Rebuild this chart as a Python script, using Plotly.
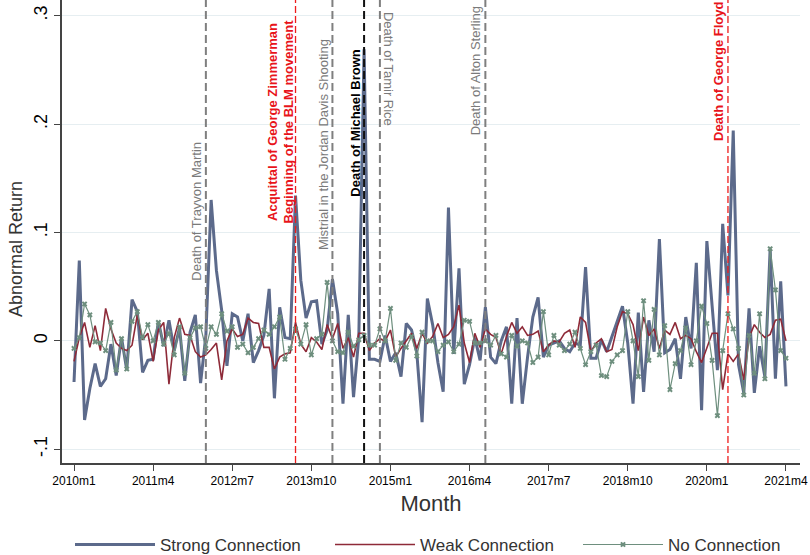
import plotly.graph_objects as go

# ---------------- data ----------------
months = [f"{y}m{m}" for y in range(2010, 2022) for m in range(1, 13)][:136]  # 2010m1 .. 2021m4

strong = [
    -0.038, 0.074, -0.073, -0.044, -0.021, -0.042, -0.035, -0.003, -0.032, 0.003,
    -0.027, 0.038, 0.027, -0.029, -0.018, -0.017, 0.018, -0.005, 0.019, -0.009,
    0.012, -0.037, 0.008, 0.024, -0.039, 0.005, 0.130, 0.065, 0.028, -0.023,
    0.025, 0.022, 0.000, 0.025, -0.020, -0.009, 0.005, 0.048, -0.053, 0.031,
    0.003, 0.002, 0.134, 0.056, 0.021, 0.036, 0.037, -0.003, 0.010, 0.057,
    0.025, -0.058, 0.024, -0.052, 0.003, 0.269, -0.017, -0.017, -0.019, 0.005,
    -0.019, -0.011, -0.033, 0.016, 0.010, -0.011, -0.075, 0.039, 0.015, -0.020,
    -0.047, 0.123, -0.012, 0.067, -0.040, -0.022, 0.003, -0.018, 0.031, -0.015,
    -0.021, 0.000, 0.013, -0.058, 0.021, -0.058, -0.015, 0.022, 0.040, -0.015,
    -0.004, -0.002, 0.000, -0.007, -0.010, -0.002, -0.004, 0.068, -0.016, -0.016,
    0.001, -0.010, 0.004, 0.020, 0.032, -0.002, -0.058, 0.026, -0.047, 0.019,
    -0.010, 0.094, -0.011, -0.008, 0.002, -0.035, 0.022, -0.007, 0.072, -0.064,
    0.092, 0.032, -0.027, 0.108, 0.042, 0.194, -0.022, -0.048, 0.030, -0.048,
    -0.005, -0.033, 0.085, -0.035, 0.055, -0.042,
]

weak = [
    -0.019, 0.003, 0.017, -0.006, 0.014, -0.009, 0.030, 0.011, -0.002, -0.007,
    -0.009, -0.004, 0.024, 0.001, 0.007, -0.019, 0.010, 0.017, -0.040, 0.003,
    0.021, 0.006, 0.005, -0.010, -0.015, -0.013, -0.008, -0.002, -0.036, 0.000,
    0.011, 0.004, 0.006, 0.021, 0.017, 0.016, -0.006, -0.006, -0.026, -0.015,
    -0.012, -0.011, 0.017, -0.003, -0.010, 0.003, -0.001, -0.008, 0.015, 0.002,
    0.016, -0.007, 0.003, -0.015, 0.007, 0.007, -0.009, -0.002, 0.002, 0.000,
    0.010, -0.015, -0.007, 0.000, 0.007, -0.007, 0.007, -0.002, 0.004, 0.016,
    0.003, 0.006, 0.013, 0.033, -0.002, -0.020, 0.007, -0.006, 0.011, 0.006,
    0.003, -0.012, 0.004, 0.017, 0.007, 0.013, 0.005, 0.006, 0.009, -0.010,
    -0.004, 0.000, -0.001, 0.007, 0.010, -0.006, 0.022, 0.017, -0.010, -0.002,
    0.002, -0.010, -0.008, 0.013, 0.027, 0.025, 0.015, -0.009, 0.022, 0.005,
    0.011, -0.007, 0.010, 0.006, 0.017, 0.002, 0.005, 0.002, -0.010, -0.020,
    -0.007, 0.007, 0.007, -0.045, -0.012, -0.019, -0.012, -0.036, 0.003, 0.015,
    0.008, 0.003, 0.006, 0.019, 0.020, 0.000,
]

none = [
    -0.007, 0.003, 0.034, 0.024, -0.001, -0.002, -0.009, 0.017, -0.027, 0.002,
    -0.026, 0.018, 0.027, 0.003, 0.015, 0.000, 0.017, -0.003, 0.007, -0.013,
    0.013, -0.030, 0.003, 0.012, 0.013, -0.007, 0.013, 0.006, 0.025, 0.009,
    0.013, -0.006, -0.003, -0.011, -0.006, 0.002, 0.010, 0.006, 0.013, 0.022,
    -0.017, -0.007, 0.011, -0.003, 0.015, -0.013, 0.002, 0.006, 0.054, 0.000,
    -0.010, -0.011, 0.008, -0.005, 0.001, 0.005, -0.004, -0.004, 0.011, 0.000,
    0.030, -0.018, -0.002, -0.006, 0.004, -0.014, 0.008, 0.000, 0.000, -0.010,
    -0.004, -0.001, -0.010, -0.003, 0.019, 0.018, -0.002, -0.002, 0.000, -0.004,
    0.005, -0.012, -0.015, 0.005, -0.005, 0.000, -0.002, -0.020, -0.015, 0.027,
    -0.013, 0.005, -0.004, -0.009, -0.003, 0.008, -0.007, -0.022, -0.010, -0.004,
    -0.032, -0.033, -0.019, -0.013, -0.009, 0.027, 0.000, -0.033, 0.037, -0.018,
    0.029, -0.013, 0.014, -0.045, -0.021, -0.009, 0.012, -0.022, 0.000, 0.032,
    0.016, -0.018, -0.069, -0.009, 0.025, 0.011, -0.007, -0.050, 0.005, -0.030,
    0.025, -0.035, 0.085, 0.047, -0.009, -0.016,
]

tick_labels = ["2010m1", "2011m4", "2012m7", "2013m10", "2015m1",
               "2016m4", "2017m7", "2018m10", "2020m1", "2021m4"]
y_tick_vals = [-0.1, 0, 0.1, 0.2, 0.3]
y_tick_text = ["-.1", "0", ".1", ".2", ".3"]

event_months = ["2012m2", "2013m7", "2014m2", "2014m8", "2014m11", "2016m7", "2020m5"]
event_labels = [
    "Death of Trayvon Martin",
    "Acquittal of George Zimmerman<br>Beginning of the BLM movement",
    "Mistrial in the Jordan Davis Shooting",
    "Death of Michael Brown",
    "Death of Tamir Rice",
    "Death of Alton Sterling",
    "Death of George Floyd",
]

# ---------------- styles ----------------
GRAY = "#7f7f7f"
RED = "#ee1c1c"
ev_style = [  # (line color, width, dash, text color, bold, label y-centre, xshift, angle)
    (GRAY, 2, "8px,4px", "#7a7a7a", False, 0.120, -9, -90),
    (RED, 1.3, "7px,3px", "#e8141b", True, 0.202, -15, -90),
    (GRAY, 2, "8px,4px", "#7a7a7a", False, 0.181, -9, -90),
    ("#111111", 2, "8px,4px", "#000000", True, 0.2005, -9, -90),
    (GRAY, 2, "8px,4px", "#7a7a7a", False, 0.251, 8, 90),
    (GRAY, 2, "8px,4px", "#7a7a7a", False, 0.249, -9, -90),
    (RED, 1.3, "7px,3px", "#e8141b", True, 0.249, -9, -90),
]

FONT = "Liberation Sans, Arial, Helvetica, sans-serif"

fig = go.Figure()
fig.add_trace(go.Scatter(x=months, y=strong, mode="lines", name="Strong Connection",
                         line=dict(color="#5c6a8b", width=3), legend="legend"))
fig.add_trace(go.Scatter(x=months, y=weak, mode="lines", name="Weak Connection",
                         line=dict(color="#8e2a38", width=1.6), legend="legend2"))
fig.add_trace(go.Scatter(x=months, y=none, mode="lines+markers", name="No Connection",
                         line=dict(color="#6e8f7e", width=1.2),
                         marker=dict(symbol="x", size=5, color="#6e8f7e"), legend="legend3"))

for m, lab, st in zip(event_months, event_labels, ev_style):
    idx = months.index(m)
    col, w, dash, tcol, bold, yc, xs, ang = st
    fig.add_shape(type="line", xref="x", yref="paper", x0=idx, x1=idx, y0=0, y1=1,
                  line=dict(color=col, width=w, dash=dash), layer="above")
    txt = f"<b>{lab}</b>" if bold else lab
    fig.add_annotation(x=idx, y=yc, xref="x", yref="y", text=txt, showarrow=False,
                       textangle=ang, xanchor="center", yanchor="middle", xshift=xs,
                       font=dict(size=13, color=tcol, family=FONT))

# y axis title as annotation
fig.add_annotation(text="Abnormal Return", xref="paper", yref="paper",
                   x=-46 / 738, y=(463 - 249) / 463, showarrow=False, textangle=-90,
                   xanchor="center", yanchor="middle",
                   font=dict(size=18, color="#333333", family=FONT))

leg_common = dict(orientation="h", xref="container", xanchor="left",
                  y=-0.177, yanchor="middle", bgcolor="rgba(0,0,0,0)",
                  font=dict(size=17, color="#333333"), itemwidth=80)

fig.update_layout(
    width=810, height=555,
    margin=dict(l=62, r=10, t=0, b=92, autoexpand=False),
    plot_bgcolor="white", paper_bgcolor="white",
    font=dict(family=FONT, color="black"),
    showlegend=True,
    legend=dict(x=70 / 810, **leg_common),
    legend2=dict(x=330 / 810, **leg_common),
    legend3=dict(x=578 / 810, **leg_common),
    xaxis=dict(type="category", range=[-2.28, 137.66], tickmode="array", automargin=False,
               tickvals=tick_labels, ticktext=tick_labels, ticks="outside", ticklen=6,
               tickcolor="#444444", showline=True, linecolor="#444444", linewidth=1.5,
               showgrid=False, tickfont=dict(size=12, color="black"),
               title=dict(text="Month", font=dict(size=22, color="#333333"), standoff=8)),
    yaxis=dict(range=[-0.1127, 0.3145], tickmode="array", tickvals=y_tick_vals, automargin=False,
               ticktext=y_tick_text, tickangle=-90, ticks="outside", ticklen=6,
               tickcolor="#444444", showline=True, linecolor="#444444", linewidth=1.5,
               showgrid=True, gridcolor="#e6eef1", gridwidth=1.2, zeroline=False,
               tickfont=dict(size=18, color="black")),
)

fig.write_html("out.html", config={"displayModeBar": False},
               post_script="document.body.style.margin='0px';")
